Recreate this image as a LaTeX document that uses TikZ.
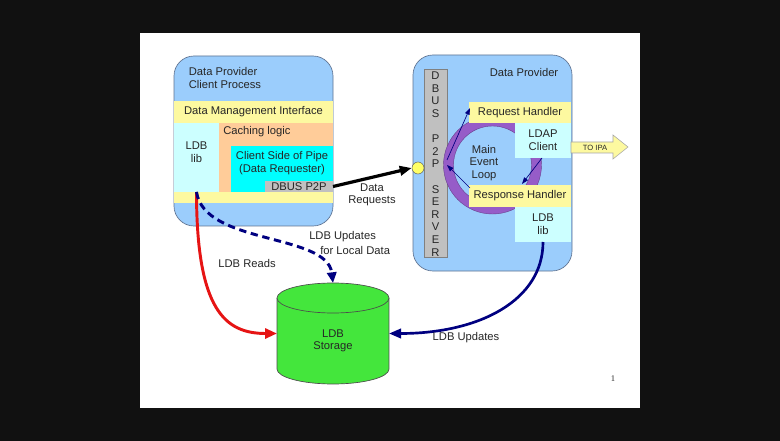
\documentclass[tikz,border=0pt]{standalone}
\usepackage{fontspec}
\setmainfont{Liberation Sans}
\newfontfamily\serifnum{Liberation Serif}
\usetikzlibrary{fit,arrows.meta,calc}
\definecolor{bgblack}{RGB}{17,17,17}
\definecolor{boxblue}{RGB}{155,205,252}
\definecolor{edgeblue}{RGB}{95,115,145}
\definecolor{lyellow}{RGB}{253,249,160}
\definecolor{lcyan}{RGB}{204,255,255}
\definecolor{peach}{RGB}{255,204,153}
\definecolor{cyanb}{RGB}{0,255,255}
\definecolor{gbar}{RGB}{192,192,192}
\definecolor{loopc}{RGB}{150,92,200}
\definecolor{storc}{RGB}{68,230,60}
\definecolor{navyc}{RGB}{0,0,128}
\definecolor{redc}{RGB}{230,20,20}
\definecolor{dotc}{RGB}{255,255,102}
\begin{document}
\begin{tikzpicture}[x=0.75pt,y=-0.75pt,
  font=\fontsize{8.4}{9.45}\selectfont,
  area/.style={fit={#1}, inner sep=0pt, outer sep=0pt},
  proc/.style={draw=edgeblue, fill=boxblue, rounded corners=15pt, line width=0.5pt},
  part/.style={fill=#1},
  txt/.style={inner sep=0pt, align=center, text=black!85},
  thinarrow/.style={navyc, line width=0.5pt, -{Triangle[length=5pt,width=3.5pt]}},
  bigtip/.style={-{Triangle[length=9pt,width=7pt]}}
]
\useasboundingbox (0,0) rectangle (780,441);
\fill[bgblack] (0,0) rectangle (780,441);
\node[area={(140,33)(640,408)}, fill=white] (slide) {};

% ---------- left: client process ----------
\node[area={(174,56)(333,226)}, proc] (cp) {};
\node[txt, align=left] (cpt) at (225,78) {Data Provider\\Client Process};
\node[area={(174,101)(333,123)}, part=lyellow] (dmi) {};
\node[txt] at (dmi.center) {Data Management Interface};
\node[area={(174,123)(219,192)}, part=lcyan] (ldbl) {};
\node[txt] at ($(ldbl.center)+(0,-5)$) {LDB\\lib};
\node[area={(219,123)(333,192)}, part=peach] (cache) {};
\node[txt, anchor=west] at (223,132) {Caching logic};
\node[area={(231,146)(333,192)}, part=cyanb] (csp) {};
\node[txt] at (282,163) {Client Side of Pipe\\(Data Requester)};
\node[area={(265,181)(333,192)}, part=gbar] (p2p) {};
\node[txt] at (299,187) {DBUS P2P};
\node[area={(174,192)(333,203)}, part=lyellow] (band) {};

% ---------- right: data provider ----------
\node[area={(413,55)(572,271)}, proc] (dp) {};
\node[txt] at (524,73) {Data Provider};
\node[area={(424,69)(447,257)}, fill=gbar, draw=gray, line width=0.4pt] (srv) {};
\node[txt, font=\fontsize{8.4}{9.45}\selectfont] at (435.5,164)
  {D\\B\\U\\S\\\mbox{}\\P\\2\\P\\\mbox{}\\S\\E\\R\\V\\E\\R};
\draw[loopc, line width=7.5pt] (492.5,165) circle[radius=33pt];
\draw[loopc!70!black, line width=0.3pt] (492.5,165) circle[radius=36.75pt];
\draw[loopc!70!black, line width=0.3pt] (492.5,165) circle[radius=29.25pt];
\node[txt] at (484,163) {Main\\Event\\Loop};
\node[area={(469,102)(571,123)}, part=lyellow] (reqh) {};
\node[txt] at (reqh.center) {Request Handler};
\node[area={(515,123)(571,158)}, part=lcyan] (ldap) {};
\node[txt] at (ldap.center) {LDAP\\Client};
\node[area={(469,185)(571,207)}, part=lyellow] (resh) {};
\node[txt] at (resh.center) {Response Handler};
\node[area={(515,207)(571,242)}, part=lcyan] (ldbr) {};
\node[txt] at (ldbr.center) {LDB\\lib};
\node[circle, fill=dotc, draw=gray!80!black, line width=0.4pt, minimum size=9pt, inner sep=0pt] (dot) at (418,168) {};

% thin arrows of the event loop
\draw[thinarrow] ([yshift=2.25pt]srv.east) -- ([yshift=3.4pt,xshift=0.75pt]reqh.west);
\draw[thinarrow] ([xshift=0.75pt,yshift=-2.25pt]resh.north west) -- ([yshift=-1.5pt]srv.east);
\draw[thinarrow] ([xshift=-0.75pt]ldap.south) -- ([xshift=1.5pt,yshift=0.75pt]resh.north);

% TO IPA arrow
\path[fill=lyellow, draw=gray!70, line width=0.4pt]
  (571,142) -- (613,142) -- (613,135) -- (628,147) -- (613,159) -- (613,153) -- (571,153) -- cycle;
\node[txt, font=\fontsize{5.7}{6}\selectfont] (ipa) at (595,147.5) {TO IPA};

% ---------- storage ----------
\fill[storc] (277,298) rectangle (389,369);
\fill[storc] (333,369) ellipse[x radius=42pt, y radius=11.25pt];
\draw[black!70, line width=0.5pt] (277,298) -- (277,369)
  arc[start angle=180, end angle=360, x radius=42pt, y radius=11.25pt] -- (389,298);
\filldraw[fill=storc, draw=black!70, line width=0.5pt] (333,298) ellipse[x radius=42pt, y radius=11.25pt];
\node[area={(277,283)(389,384)}] (stor) {};
\node[txt] at (333,341) {LDB\\Storage};

% ---------- connectors ----------
\draw[line width=2.4pt, black, bigtip] (p2p.east) -- (dot.west);
\node[txt] at (372,195) {Data\\Requests};

\draw[redc, line width=2.2pt, -{Triangle[length=9pt,width=7.5pt]}]
  (ldbl.south) .. controls +(0,118) and +(-52,0) .. (stor.west);
\node[txt] at (247,263) {LDB Reads};

\draw[navyc, line width=2.2pt, dash pattern=on 5.5pt off 3.5pt, -{Triangle[length=8pt,width=7pt]}]
  (ldbl.south) .. controls +(8,53) and +(-6,-50) .. (stor.north);
\node[txt, anchor=west] at (309,237) {LDB Updates};
\node[txt, anchor=west] at (320,250) {for Local Data};

\draw[navyc, line width=2pt, -{Triangle[length=9pt,width=7pt]}]
  (ldbr.south) .. controls +(0,58) and +(91,0) .. (stor.east);
\node[txt] at (466,338) {LDB Updates};

\node[txt, font=\serifnum\fontsize{6.5}{7}\selectfont] at (613,379) {1};
\end{tikzpicture}
\end{document}
